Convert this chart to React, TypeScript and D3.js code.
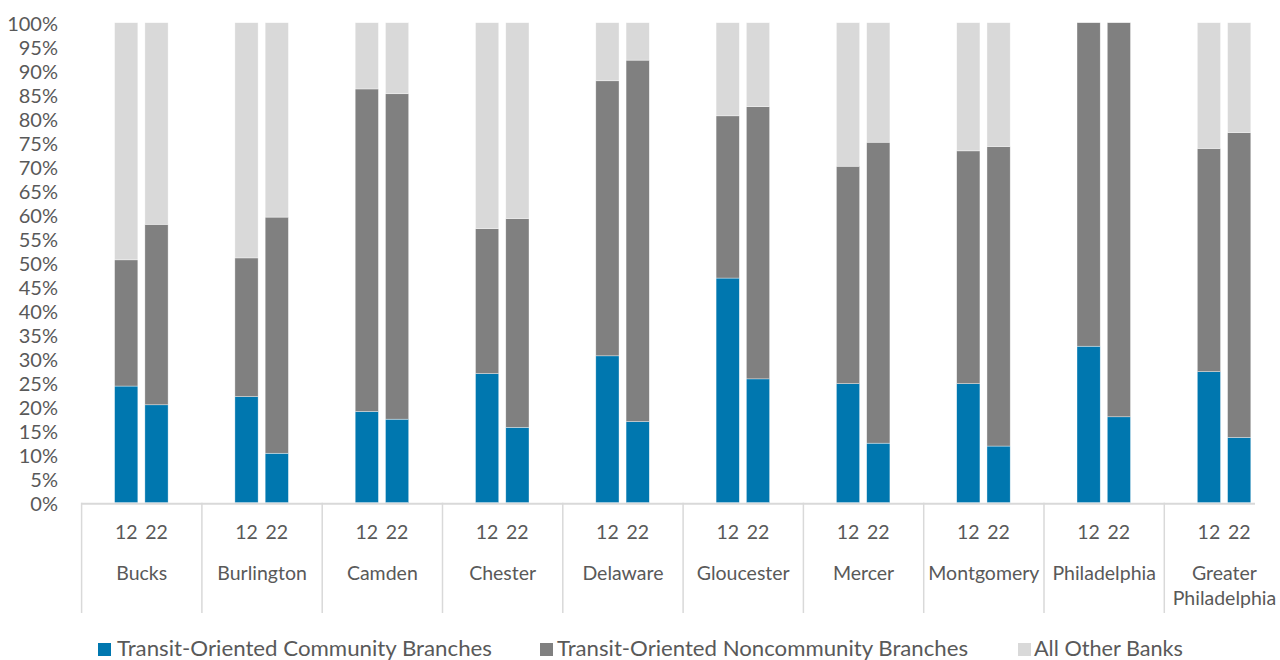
import React, { useEffect } from "react";
import * as d3 from "d3";

// Share of bank branches by county, 2012 vs 2022 (percent of all branches)
const counties = [
  "Bucks",
  "Burlington",
  "Camden",
  "Chester",
  "Delaware",
  "Gloucester",
  "Mercer",
  "Montgomery",
  "Philadelphia",
  "Greater Philadelphia",
];
const years = ["12", "22"];

// One value per county, per year
const community12 = [24.3, 22.1, 19.0, 26.9, 30.6, 46.8, 24.8, 24.8, 32.6, 27.3];
const community22 = [20.4, 10.3, 17.4, 15.7, 16.9, 25.8, 12.4, 11.8, 17.9, 13.6];
const noncommunity12 = [26.3, 28.9, 67.2, 30.2, 57.3, 33.8, 45.3, 48.5, 67.4, 46.5];
const noncommunity22 = [37.6, 49.2, 67.8, 43.5, 75.3, 56.7, 62.7, 62.4, 82.1, 63.5];
const other12 = [49.4, 49.0, 13.8, 42.9, 12.1, 19.4, 29.9, 26.7, 0, 26.2];
const other22 = [42.0, 40.5, 14.8, 40.8, 7.8, 17.5, 24.9, 25.8, 0, 22.9];

const seriesNames = [
  "Transit-Oriented Community Branches",
  "Transit-Oriented Noncommunity Branches",
  "All Other Banks",
];
const seriesKeys = ["community", "noncommunity", "other"];
const seriesColors = ["#0077AF", "#808080", "#D9D9D9"];

const yTicks = d3.range(0, 101, 5);

const FONT = "Lato, 'Open Sans', sans-serif";
const TEXT = "#595959";
const GRID = "#D9D9D9";

type Row = {
  county: string;
  year: string;
  community: number;
  noncommunity: number;
  other: number;
};

const rows: Row[] = counties.flatMap((county, i) => [
  { county, year: "12", community: community12[i], noncommunity: noncommunity12[i], other: other12[i] },
  { county, year: "22", community: community22[i], noncommunity: noncommunity22[i], other: other22[i] },
]);

const W = 1280;
const H = 660;
const plotLeft = 81.6;
const groupStep = 120.3;
const plotTop = 22.7;
const plotBottom = 502.7;
const axisRight = 1255;

const x = d3
  .scaleBand<string>()
  .domain(counties)
  .range([plotLeft, plotLeft + groupStep * counties.length])
  .paddingInner(0)
  .paddingOuter(0);

const xYear = d3
  .scaleBand<string>()
  .domain(years)
  .range([33, 86.5])
  .paddingInner(0.233)
  .paddingOuter(0);

const y = d3.scaleLinear().domain([0, 100]).range([plotBottom, plotTop]);

const stacked = d3.stack<Row>().keys(seriesKeys)(rows);

// legend layout: swatch x, text x, text width
const legendItems = [
  { x: 98, textX: 117, width: 375 },
  { x: 540, textX: 557, width: 411 },
  { x: 1018, textX: 1034, width: 149 },
];

export default function App() {
  useEffect(() => {
    document.body.style.margin = "0";
  }, []);

  return (
    <svg width={W} height={H} style={{ display: "block", background: "#fff" }} fontFamily={FONT}>
      {/* y tick labels */}
      {yTicks.map((t) => (
        <text
          key={t}
          x={58}
          y={y(t)}
          textAnchor="end"
          dominantBaseline="central"
          fontSize={20}
          fill={TEXT}
        >
          {`${t}%`}
        </text>
      ))}

      {/* stacked bars */}
      {stacked.map((layer, si) => (
        <g key={seriesKeys[si]} fill={seriesColors[si]}>
          {layer.map((d, i) => {
            const r = d.data;
            const h = y(d[0]) - y(d[1]);
            if (h <= 0) return null;
            return (
              <rect
                key={i}
                x={(x(r.county) ?? 0) + (xYear(r.year) ?? 0)}
                y={y(d[1])}
                width={xYear.bandwidth()}
                height={h}
                stroke="#ffffff"
                strokeOpacity={0.6}
                strokeWidth={0.6}
              />
            );
          })}
        </g>
      ))}

      {/* category axis */}
      <line x1={plotLeft} x2={axisRight} y1={plotBottom + 1} y2={plotBottom + 1} stroke={GRID} strokeWidth={2} />
      {counties.map((c) => (
        <line
          key={`div-${c}`}
          x1={x(c)}
          x2={x(c)}
          y1={plotBottom}
          y2={613}
          stroke={GRID}
          strokeWidth={1.5}
        />
      ))}

      {/* year labels */}
      {counties.map((c) =>
        years.map((yr) => (
          <text
            key={`${c}-${yr}`}
            x={(x(c) ?? 0) + (xYear(yr) ?? 0) + xYear.bandwidth() / 2}
            y={539}
            textAnchor="middle"
            fontSize={19.5}
            fill={TEXT}
          >
            {yr}
          </text>
        ))
      )}

      {/* county labels */}
      {counties.map((c) => {
        const cx = (x(c) ?? 0) + x.bandwidth() / 2;
        const parts = c === "Greater Philadelphia" ? ["Greater", "Philadelphia"] : [c];
        return (
          <text key={`lbl-${c}`} textAnchor="middle" fontSize={19.5} fill={TEXT}>
            {parts.map((p, i) => (
              <tspan key={p} x={cx} y={580 + i * 25}>
                {p}
              </tspan>
            ))}
          </text>
        );
      })}

      {/* legend */}
      {seriesNames.map((name, i) => (
        <g key={name}>
          <rect x={legendItems[i].x} y={643} width={13} height={13} fill={seriesColors[i]} />
          <text
            x={legendItems[i].textX}
            y={656}
            fontSize={21}
            fill={TEXT}
            textLength={legendItems[i].width}
            lengthAdjust="spacingAndGlyphs"
          >
            {name}
          </text>
        </g>
      ))}
    </svg>
  );
}
